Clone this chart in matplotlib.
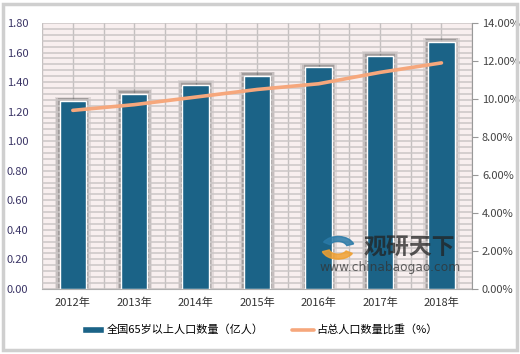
import matplotlib
matplotlib.use("Agg")
import matplotlib.pyplot as plt
import numpy as np
from matplotlib.patches import Rectangle, Wedge
from matplotlib.ticker import MultipleLocator, FuncFormatter

plt.rcParams["font.family"] = ["Noto Sans CJK SC", "DejaVu Sans"]

years = ["2012年", "2013年", "2014年", "2015年", "2016年", "2017年", "2018年"]
pop_65 = [1.27, 1.32, 1.38, 1.44, 1.50, 1.58, 1.67]
share_pct = [9.4, 9.7, 10.1, 10.5, 10.8, 11.4, 11.9]

bar_label = "全国65岁以上人口数量（亿人）"
line_label = "占总人口数量比重（%）"

BAR_COLOR = "#1b6387"
LINE_COLOR = "#f6a77c"

fig = plt.figure(figsize=(5.2, 3.54), dpi=100)
fig.patch.set_facecolor("white")
# outer frame
fig.patches.append(Rectangle((0.006, 0.012), 0.988, 0.976, transform=fig.transFigure,
                             fill=False, edgecolor="#cfcfcf", linewidth=2.5))

ax = fig.add_axes([0.081, 0.184, 0.827, 0.751])
ax.set_facecolor("#f8efef")
x = np.arange(len(years))

# grid
ax.set_ylim(0, 1.8)
ax.set_xlim(-0.5, len(years) - 0.5)
ax.yaxis.set_major_locator(MultipleLocator(0.2))
ax.yaxis.set_minor_locator(MultipleLocator(0.04))
ax.grid(which="both", axis="y", color="#cbc6c6", linewidth=1.1, zorder=0)
for v in np.arange(-0.5, len(years), 0.5):
    ax.axvline(v, color="#c4c0c0", linewidth=1.0, zorder=0)

# blurred shadow behind bars
for grow, alpha in [(0.16, 0.12), (0.11, 0.18), (0.06, 0.28)]:
    ax.bar(x, [v + 0.012 + grow * 0.12 for v in pop_65], width=0.43 + grow,
           color="#444444", alpha=alpha, linewidth=0, zorder=1)
ax.bar(x, pop_65, width=0.43, color=BAR_COLOR, edgecolor="white", linewidth=1.0,
       zorder=2, label=bar_label)

ax.set_xticks(x)
ax.set_xticklabels(years, fontsize=8, color="#333333")
ax.tick_params(axis="x", length=0, pad=6)
ax.tick_params(axis="y", which="both", length=0, labelsize=8, labelcolor="#3b3566", pad=10)
ax.yaxis.set_major_formatter(FuncFormatter(lambda v, _: f"{v:.2f}"))
for s in ["top", "left", "right"]:
    ax.spines[s].set_visible(False)
ax.spines["bottom"].set_color("#b0b0b0")

ax2 = ax.twinx()
ax2.plot(x, share_pct, color=LINE_COLOR, linewidth=2.6, solid_capstyle="round",
         zorder=3, label=line_label)
ax2.set_ylim(0, 14)
ax2.yaxis.set_major_locator(MultipleLocator(2))
ax2.yaxis.set_major_formatter(FuncFormatter(lambda v, _: f"{v:.2f}%"))
ax2.tick_params(axis="y", length=4, color="#999999", labelsize=8, labelcolor="#444444",
                pad=3)
for s in ["top", "left", "bottom"]:
    ax2.spines[s].set_visible(False)
ax2.spines["right"].set_color("#999999")

# watermark
fig.text(0.700, 0.298, "观研天下", fontsize=16.5, fontweight="bold", color="#222222",
         alpha=0.75, ha="left", va="center")
fig.text(0.615, 0.245, "www.chinabaogao.com", fontsize=8.8, color="#333333",
         alpha=0.75, ha="left", va="center", family=["DejaVu Sans"])
fig.patches.append(Wedge((0.65, 0.30), 0.032, 200, 330, width=0.014,
                         transform=fig.transFigure, color="#f0a030", alpha=0.85))
fig.patches.append(Wedge((0.65, 0.30), 0.032, 20, 150, width=0.014,
                         transform=fig.transFigure, color="#2a7aa8", alpha=0.85))

h1, l1 = ax.get_legend_handles_labels()
h2, l2 = ax2.get_legend_handles_labels()
fig.legend(h1 + h2, l1 + l2, loc="center", bbox_to_anchor=(0.5, 0.068), ncol=2,
           frameon=False, fontsize=8, handlelength=2.0, handleheight=0.5,
           columnspacing=2.6, handletextpad=0.2)

fig.savefig("out.png", dpi=100)
